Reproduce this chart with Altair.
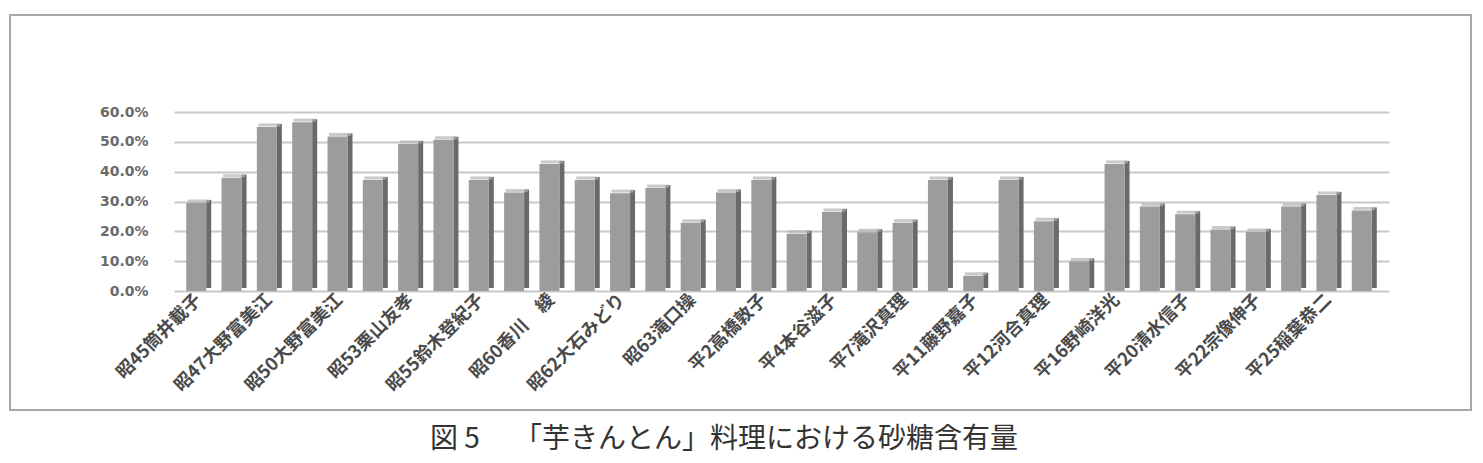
import altair as alt
import pandas as pd

values = [29.5, 38.0, 55.0, 56.6, 51.8, 37.2, 49.3, 50.7, 37.2, 33.0,
          42.6, 37.2, 32.8, 34.5, 22.9, 33.0, 37.2, 19.2, 26.5, 19.7,
          22.9, 37.2, 5.1, 37.2, 23.4, 9.9, 42.6, 28.3, 25.7, 20.6,
          19.8, 28.3, 32.2, 27.0]
labels = ["昭45筒井載子", "昭47大野富美江", "昭50大野富美江", "昭53栗山友孝",
          "昭55鈴木登紀子", "昭60香川　綾", "昭62大石みどり", "昭63滝口操",
          "平2高橋敦子", "平4本谷滋子", "平7滝沢真理", "平11藤野嘉子",
          "平12河合真理", "平16野崎洋光", "平20清水信子", "平22宗像伸子",
          "平25稲葉恭二"]
y_ticks = [0, 0.1, 0.2, 0.3, 0.4, 0.5, 0.6]
caption = "図 5　 「芋きんとん」料理における砂糖含有量"

df = pd.DataFrame({"idx": list(range(len(values))),
                   "v": [v / 100 for v in values]})

label_arr = "[" + ",".join("'" + s + "'" for s in labels) + "]"
label_expr = f"datum.value % 2 == 0 ? {label_arr}[datum.value / 2] : ''"

W, H = 1215, 179

xenc = alt.X("idx:O", title=None,
             scale=alt.Scale(paddingInner=0.3, paddingOuter=0.35),
             axis=alt.Axis(labelExpr=label_expr, labelAngle=-45, labelAlign="right",
                           labelBaseline="middle", labelFont="Noto Sans CJK JP",
                           labelFontWeight="bold", labelFontSize=18, labelColor="#4a4a4a",
                           labelPadding=6, ticks=False, domain=False, labelOverlap=False))
yenc = alt.Y("v:Q", title=None,
             scale=alt.Scale(domain=[0, 0.6]),
             axis=alt.Axis(values=y_ticks, format=".1%", labelFont="DejaVu Sans",
                           labelFontWeight="bold", labelFontSize=14, labelColor="#6a6a6a",
                           labelPadding=26, ticks=False, domain=False,
                           gridColor="#c8c8c8", gridWidth=2))

base = alt.Chart(df)

side = base.mark_bar(width=5, xOffset=10, yOffset=-3, color="#6a6a6a").encode(x=xenc, y=yenc)
front = base.mark_bar(width=20, xOffset=-2.5, color="#9c9c9c").encode(x=xenc, y=yenc)
top = base.mark_tick(thickness=3, size=22, xOffset=0, yOffset=-2, color="#b4b4b4").encode(x=xenc, y=yenc)

frame = alt.Chart(pd.DataFrame({"a": [0]})).mark_rect(
    fill=None, stroke="#a8a8a8", strokeWidth=2).encode(
    x=alt.value(-164), x2=alt.value(1297), y=alt.value(-97), y2=alt.value(298))

cap = alt.Chart(pd.DataFrame({"t": [caption]})).mark_text(
    font="Noto Sans CJK JP", fontSize=28, color="#333333", align="center",
    baseline="middle").encode(text="t:N", x=alt.value(550), y=alt.value(328))

chart = alt.layer(frame, side, top, front, cap).properties(
    width=W, height=H,
    autosize=alt.AutoSizeParams(type="none"),
    padding={"left": 174, "top": 112, "right": 94, "bottom": 172},
).configure_view(stroke=None)

chart.save("out.html", embed_options={"renderer": "svg", "actions": False})
